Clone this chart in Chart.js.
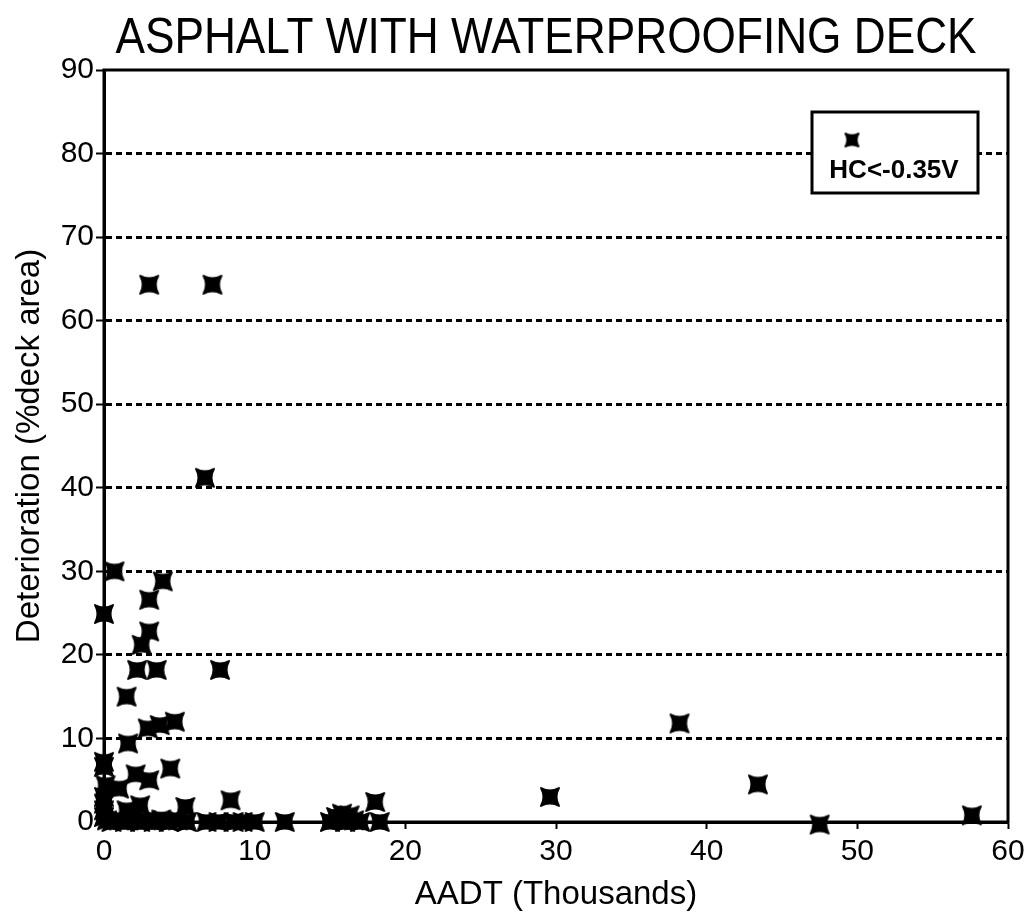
<!DOCTYPE html>
<html>
<head>
<meta charset="utf-8">
<title>Asphalt with waterproofing deck</title>
<script src="https://cdn.jsdelivr.net/npm/chart.js@4.4.1/dist/chart.umd.min.js"></script>
<style>
  html, body { margin: 0; padding: 0; background: #fff; }
  #wrap { width: 1034px; height: 919px; }
</style>
</head>
<body>
<div id="wrap"><canvas id="chart" width="1034" height="919"></canvas></div>
<script>
// Data (AADT in thousands, deterioration in % deck area)
const aadt = [
  3.0, 7.2, 6.7, 0.7, 0.0, 3.9, 3.0, 3.0, 2.5, 2.2, 3.5, 7.7, 1.5, 1.6, 2.9, 3.7, 4.7,
  0.0, 0.0, 2.1, 3.0, 4.4, 0.1, 1.0, 0.0, 0.0, 0.0, 0.0, 0.2, 1.5, 2.4, 5.4, 8.4,
  0.5, 1.0, 1.4, 1.9, 2.4, 2.8, 3.3, 3.8, 4.3, 4.9, 5.5, 6.8, 7.6, 8.6, 9.2, 10.0,
  12.0, 15.0, 15.4, 15.8, 16.0, 16.3, 16.6, 17.0, 18.0, 18.3,
  29.6, 38.2, 43.4, 47.5, 57.6
];
const deterioration = [
  64.3, 64.3, 41.2, 30.0, 24.9, 28.8, 26.6, 22.8, 21.2, 18.2, 18.2, 18.2, 15.0, 9.4, 11.2, 11.6, 12.0,
  7.2, 6.6, 5.7, 5.0, 6.4, 4.4, 4.0, 3.0, 2.2, 1.4, 0.6, 0.2, 1.4, 2.0, 1.8, 2.6,
  0.0, 0.2, 0.0, 0.3, 0.0, 0.2, 0.0, 0.3, 0.0, 0.2, 0.0, 0.0, 0.0, 0.0, 0.0, 0.0,
  0.0, 0.0, 0.6, 1.0, 0.0, 0.8, 0.2, 0.0, 2.4, 0.0,
  3.0, 11.8, 4.5, -0.3, 0.8
];
const xTicks = [0, 10, 20, 30, 40, 50, 60];
const yTicks = [0, 10, 20, 30, 40, 50, 60, 70, 80, 90];
const seriesName = 'HC<-0.35V';
const chartTitle = 'ASPHALT WITH WATERPROOFING DECK';
const xTitle = 'AADT (Thousands)';
const yTitle = 'Deterioration (%deck area)';

const FONT = "'Liberation Sans', Arial, sans-serif";

// chunky four-pointed "x" marker like the scanned plot symbol
function makeMarker(size) {
  const c = document.createElement('canvas');
  c.width = size + 4;
  c.height = size + 4;
  const g = c.getContext('2d');
  const h = size / 2;
  const m = size * 0.36;   // distance of the concave edge middles from the centre
  const k = 2 * m - h;     // matching quadratic control point
  g.translate(c.width / 2, c.height / 2);
  g.beginPath();
  g.moveTo(-h, -h);
  g.quadraticCurveTo(0, -k, h, -h);
  g.quadraticCurveTo(k, 0, h, h);
  g.quadraticCurveTo(0, k, -h, h);
  g.quadraticCurveTo(-k, 0, -h, -h);
  g.closePath();
  g.fillStyle = '#000';
  g.strokeStyle = '#000';
  g.lineWidth = 2;
  g.lineJoin = 'round';
  g.fill();
  g.stroke();
  return c;
}

const marker = makeMarker(18);
const legendMarker = makeMarker(13);

const points = aadt.map((x, i) => ({ x: x, y: deterioration[i] }));

// box around the plot area, drawn under the points
const framePlugin = {
  id: 'frame',
  beforeDatasetsDraw(chart) {
    const { ctx, chartArea: a } = chart;
    ctx.save();
    ctx.strokeStyle = '#000';
    ctx.lineWidth = 3;
    ctx.strokeRect(a.left, a.top, a.right - a.left, a.bottom - a.top);
    ctx.restore();
  }
};

// condensed title text, like the narrow typeface of the original
const titlePlugin = {
  id: 'narrowTitle',
  afterDraw(chart) {
    const ctx = chart.ctx;
    ctx.save();
    ctx.fillStyle = '#000';
    ctx.font = '50px ' + FONT;
    ctx.textAlign = 'center';
    ctx.textBaseline = 'middle';
    ctx.translate(546, 39);
    ctx.scale(0.884, 1);
    ctx.fillText(chartTitle, 0, 0);
    ctx.restore();
  }
};

// boxed legend with the symbol above the label
const legendBoxPlugin = {
  id: 'legendBox',
  afterDraw(chart) {
    const ctx = chart.ctx;
    const x = 812, y = 112, w = 166, h = 81;
    ctx.save();
    ctx.fillStyle = '#fff';
    ctx.fillRect(x, y, w, h);
    ctx.strokeStyle = '#000';
    ctx.lineWidth = 3;
    ctx.strokeRect(x, y, w, h);
    ctx.drawImage(legendMarker, 852 - legendMarker.width / 2, 140 - legendMarker.height / 2);
    ctx.fillStyle = '#000';
    ctx.font = 'bold 26px ' + FONT;
    ctx.textAlign = 'center';
    ctx.textBaseline = 'middle';
    ctx.fillText(chart.data.datasets[0].label, 894, 171);
    ctx.restore();
  }
};

new Chart(document.getElementById('chart'), {
  type: 'scatter',
  data: {
    datasets: [{
      label: seriesName,
      data: points,
      pointStyle: marker,
      pointRadius: 9,
      clip: false
    }]
  },
  options: {
    responsive: false,
    animation: false,
    events: [],
    layout: { padding: { left: 0, right: 26, top: 70, bottom: 0 } },
    plugins: {
      legend: { display: false },
      tooltip: { enabled: false },
      title: { display: false }
    },
    scales: {
      x: {
        type: 'linear',
        min: 0,
        max: 60,
        afterBuildTicks: scale => { scale.ticks = xTicks.map(v => ({ value: v })); },
        afterFit: scale => { scale.height = 97; },
        ticks: {
          color: '#000',
          font: { family: FONT, size: 30 },
          padding: 5
        },
        grid: {
          drawOnChartArea: false,
          drawTicks: true,
          tickLength: 7,
          tickColor: '#000',
          tickWidth: 2
        },
        border: { display: true, color: '#000', width: 3 },
        title: {
          display: true,
          text: xTitle,
          color: '#000',
          font: { family: FONT, size: 33 },
          padding: { top: 0, bottom: 4 }
        }
      },
      y: {
        type: 'linear',
        min: 0,
        max: 90,
        afterBuildTicks: scale => { scale.ticks = yTicks.map(v => ({ value: v })); },
        afterFit: scale => { scale.width = 104; },
        ticks: {
          color: '#000',
          font: { family: FONT, size: 30 },
          padding: 2
        },
        grid: {
          color: c => (c.tick && (c.tick.value === 0 || c.tick.value === 90)) ? 'rgba(0,0,0,0)' : '#000',
          lineWidth: 3,
          drawTicks: true,
          tickLength: 8,
          tickColor: '#000',
          tickWidth: 2
        },
        border: { display: true, color: '#000', width: 3, dash: [6, 4] },
        title: {
          display: true,
          text: yTitle,
          color: '#000',
          font: { family: FONT, size: 33 },
          padding: { top: 10, bottom: 0 }
        }
      }
    }
  },
  plugins: [framePlugin, titlePlugin, legendBoxPlugin]
});
</script>
</body>
</html>
